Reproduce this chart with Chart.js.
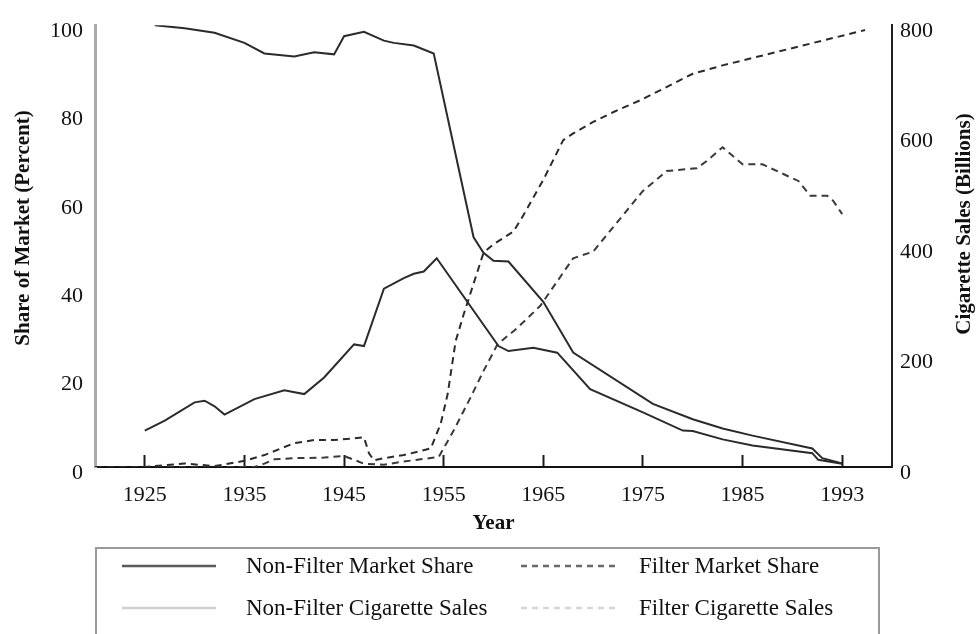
<!DOCTYPE html>
<html>
<head>
<meta charset="utf-8">
<script src="https://cdn.jsdelivr.net/npm/chart.js@4.4.1/dist/chart.umd.min.js"></script>
<style>
  html, body { margin:0; padding:0; background:#fff; }
  #wrap { position:relative; width:977px; height:634px; overflow:hidden; background:#fff; }
  #c { position:absolute; left:0; top:0; }
  #legend { position:absolute; left:95px; top:547px; width:785px; height:120px;
            border:2px solid #9a9a9a; box-sizing:border-box;
            font-family:"Liberation Serif", "Times New Roman", serif; font-size:23px; color:#111; }
  .item { position:absolute; height:28px; display:flex; align-items:center; white-space:nowrap; }
  .item svg { display:block; }
  .item span { position:absolute; line-height:28px; }
</style>
</head>
<body>
<div id="wrap">
  <canvas id="c" width="977" height="634" style="width:977px;height:634px"></canvas>
  <div id="legend"></div>
</div>
<script>
// ---------- data (x = year position on the axis) ----------
const tickYears  = [1925, 1935, 1945, 1955, 1965, 1975, 1985, 1995];
const tickLabels = ['1925', '1935', '1945', '1955', '1965', '1975', '1985', '1993'];

const nfShareYears = [1926,1929,1932,1935,1937,1940,1942,1944,1945,1947,1949,1950,1952,1954,1958,1959,1960,1961.5,1965,1968,1976,1980,1983,1986,1992,1993,1995];
const nfShare      = [100, 99.3,98.3,96.0,93.6,92.9,93.9,93.4,97.5,98.5,96.5,96.0,95.4,93.6,52.0,48.5,46.7,46.5,37.4,25.9,14.3,10.8,8.7,7.1,4.2,2.0,0.8];

const fShareYears = [1920,1925,1929,1932,1935,1937,1940,1942,1944,1947,1947.5,1948,1949,1951,1953.7,1954.7,1955.4,1956.2,1957,1958,1959,1960,1962,1963,1965,1967,1968,1970,1972,1975,1980,1983,1988,1997.3];
const fShare      = [0,   0,   0.8, 0.2, 1.4, 2.7, 5.4, 6.1, 6.1, 6.7, 3.1,   1.5, 2.0, 2.7, 4.2,   9.8,   16.5,  28.5,  34.5,41.5,48.5,50.4,53.3,57.0,65.0,74.0,75.5,78.1,80.3,83.3,89.0,90.9,93.7,98.9];

const nfSalesYears = [1925,1927,1930,1931,1932,1933,1936,1939,1941,1943,1946,1947,1949,1951,1952,1953,1954.3,1960.5,1961.5,1964,1966.4,1969.7,1975,1979,1980,1983,1986,1992,1992.6,1995];
const nfSales      = [66,  84,  117, 120, 110, 95,  123, 139, 132, 162, 222, 219, 323, 342, 350, 354, 378,   219,   210,   216, 207,   141,   99,  66,  65,  50,  39,  25,  13,    6];

const fSalesYears = [1920,1936,1937,1938,1940,1943,1945,1946,1947,1949,1951,1954.5,1956,1957.7,1959,1960.4,1962.4,1964.7,1968,1970,1972,1975,1977.4,1980.4,1981.4,1983,1985,1987,1990.6,1991.8,1993.5,1994.1,1995];
const fSales      = [0,   0,   6,   14,  16,  17,  20,  13,  6,   4,   10,  18,    66,  126,   174, 222,   252,   292,   378, 390, 434, 500, 536,   541,   554,   579, 548, 548, 518,   491,   491,   482,   458];

const yLeftTitle  = 'Share of Market (Percent)';
const yRightTitle = 'Cigarette Sales (Billions)';
const xTitle      = 'Year';

const SERIF = '"Liberation Serif", "Times New Roman", serif';
const pts = (xs, ys) => xs.map((x, i) => ({ x, y: ys[i] }));

const datasets = [
  { label:'Non-Filter Market Share',   data:pts(nfShareYears, nfShare), yAxisID:'y',
    borderColor:'#2b2b2b', borderWidth:2, legendColor:'#5a5a5a', legendDash:null },
  { label:'Filter Market Share',       data:pts(fShareYears, fShare),   yAxisID:'y',
    borderColor:'#2b2b2b', borderWidth:2, borderDash:[7,5], legendColor:'#6a6a6a', legendDash:'6 5' },
  { label:'Non-Filter Cigarette Sales',data:pts(nfSalesYears, nfSales), yAxisID:'y1',
    borderColor:'#2b2b2b', borderWidth:2, legendColor:'#cfcfcf', legendDash:null },
  { label:'Filter Cigarette Sales',    data:pts(fSalesYears, fSales),   yAxisID:'y1',
    borderColor:'#3a3a3a', borderWidth:2, borderDash:[7,5], legendColor:'#d6d6d6', legendDash:'6 5' }
];
datasets.forEach(d => { d.pointRadius = 0; d.tension = 0; d.fill = false; });

const sideTitles = {
  id:'sideTitles',
  afterDraw(chart) {
    const ctx = chart.ctx;
    ctx.save();
    ctx.font = 'bold 21px ' + SERIF;
    ctx.fillStyle = '#111';
    ctx.textAlign = 'center';
    ctx.textBaseline = 'middle';
    ctx.save(); ctx.translate(24, 228); ctx.rotate(-Math.PI / 2); ctx.fillText(yLeftTitle, 0, 0); ctx.restore();
    ctx.save(); ctx.translate(965, 224); ctx.rotate(-Math.PI / 2); ctx.fillText(yRightTitle, 0, 0); ctx.restore();
    ctx.restore();
  }
};

const chart = new Chart(document.getElementById('c'), {
  type:'line',
  data:{ datasets },
  options:{
    responsive:false, animation:false, parsing:true,
    layout:{ padding:{ top:21, left:0, right:0, bottom:89 } },
    plugins:{ legend:{ display:false }, tooltip:{ enabled:false } },
    scales:{
      x:{
        type:'linear', min:1920, max:2000,
        afterBuildTicks:(s) => { s.ticks = tickYears.map(v => ({ value:v })); },
        afterFit:(s) => { s.height = 78; },
        ticks:{ callback:(v, i) => tickLabels[i], autoSkip:false, maxRotation:0,
                font:{ family:SERIF, size:22 }, color:'#111', padding:27 },
        grid:{ drawOnChartArea:false, drawTicks:true, tickLength:-12, tickWidth:2, color:'#1a1a1a' },
        border:{ display:true, color:'#111', width:2 },
        title:{ display:true, text:xTitle, color:'#111', font:{ family:SERIF, size:21, weight:'bold' },
                padding:{ top:0, bottom:9 } }
      },
      y:{
        position:'left', min:0, max:100,
        afterFit:(s) => { s.width = 95; },
        ticks:{ stepSize:20, font:{ family:SERIF, size:22 }, color:'#111', padding:12, labelOffset:6 },
        grid:{ display:false, drawTicks:false },
        border:{ display:true, color:'#ababab', width:3 }
      },
      y1:{
        position:'right', min:0, max:800,
        afterFit:(s) => { s.width = 85; },
        ticks:{ stepSize:200, font:{ family:SERIF, size:22 }, color:'#111', padding:8, labelOffset:6 },
        grid:{ display:false, drawTicks:false },
        border:{ display:true, color:'#222', width:2 }
      }
    }
  },
  plugins:[sideTitles]
});

// ---------- legend built from the datasets ----------
const legend = document.getElementById('legend');
const cols = [{ sample:25, text:149 }, { sample:424, text:542 }];
const rowsTop = [3, 45];
chart.data.datasets.forEach((d, i) => {
  const r = Math.floor(i / 2), c = i % 2;
  const item = document.createElement('div');
  item.className = 'item';
  item.style.left = cols[c].sample + 'px';
  item.style.top = rowsTop[r] + 'px';
  const dash = d.legendDash ? ` stroke-dasharray="${d.legendDash}"` : '';
  item.innerHTML = `<svg width="94" height="6"><line x1="0" y1="3" x2="94" y2="3" stroke="${d.legendColor}" stroke-width="2.5"${dash}/></svg>`;
  const span = document.createElement('span');
  span.textContent = d.label;
  span.style.left = (cols[c].text - cols[c].sample) + 'px';
  item.appendChild(span);
  legend.appendChild(item);
});
</script>
</body>
</html>
